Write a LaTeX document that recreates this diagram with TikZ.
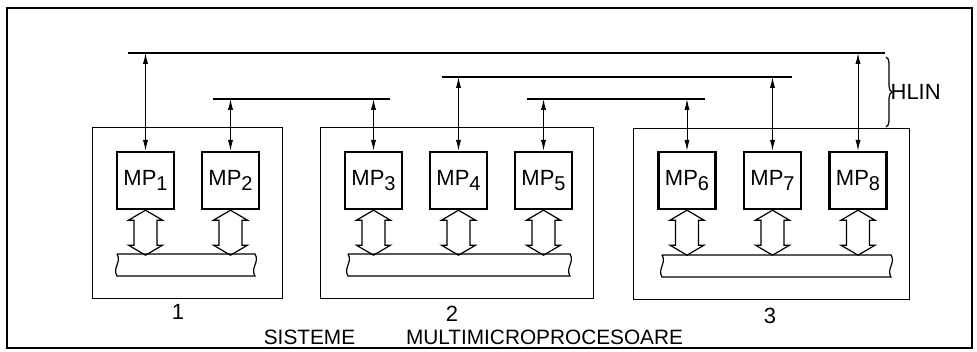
\documentclass[tikz,border=0pt]{standalone}
\usepackage{fontspec}
\setmainfont{Liberation Sans}
\usetikzlibrary{arrows.meta,positioning,calc,decorations.pathreplacing}

\newcommand{\mpname}[1]{MP\raisebox{-0.5ex}{\fontsize{10}{11}\selectfont#1}}

\begin{document}
\begin{tikzpicture}[
  x=0.5pt, y=-0.5pt,
  font=\fontsize{11}{12}\selectfont,
  outer/.style={line width=0.8pt},
  grpbox/.style={draw, line width=0.5pt, inner sep=0pt},
  mp/.style={draw, line width=1.2pt, minimum width=28.5pt, minimum height=28.5pt, inner sep=0pt},
  bus/.style={line width=0.6pt},
  link/.style={{Latex[length=5.5pt,width=2.6pt]}-{Latex[length=5.5pt,width=2.6pt]}, line width=0.5pt},
  wide/.style={line width=0.6pt, line join=miter},
  busbar/.style={line width=0.6pt},
  brace/.style={decorate, decoration={brace, amplitude=3pt}, line width=0.6pt},
  txt/.style={inner sep=0pt},
  title/.style={inner sep=0pt, font=\fontsize{10.4}{12}\selectfont}
]
\useasboundingbox (0,0) rectangle (977,352);

\draw[outer] (7,8) rectangle (972,348);

% the three systems
\node[grpbox, minimum width=95pt, minimum height=85pt] (grp1) at (187,213) {};
\node[grpbox, minimum width=136.5pt, minimum height=85pt] (grp2) at (456.5,213) {};
\node[grpbox, minimum width=138pt, minimum height=85pt] (grp3) at (771,214) {};

\node[txt] (num1) at (178,312) {1};
\node[txt] (num2) at (452,314) {2};
\node[txt] (num3) at (770,316) {3};

% processors
\foreach \i/\x in {1/145.5,2/230.5,3/373.5,4/458.5,5/543.5,6/687,7/772.5,8/858}
  \node[mp] (mp\i) at (\x,180.5) {\mpname{\i}};

% local buses
\draw[busbar] (117,254) -- (255,254) .. controls (260,262) and (250,268) .. (255,276)
  -- (117,276) .. controls (112,268) and (122,262) .. (117,254);
\draw[busbar] (348,254) -- (570,254) .. controls (575,262) and (565,268) .. (570,276)
  -- (348,276) .. controls (343,268) and (353,262) .. (348,254);
\draw[busbar] (662,255) -- (891,255) .. controls (896,263) and (886,269) .. (891,277)
  -- (662,277) .. controls (657,269) and (667,263) .. (662,255);

\foreach \i in {1,...,8}
  \draw[wide] (mp\i.south) -- ++(17,10) -- ++(-5.5,0) -- ++(0,25) -- ++(5.5,0) -- ++(-17,10)
    -- ++(-17,-10) -- ++(5.5,0) -- ++(0,-25) -- ++(-5.5,0) -- cycle;

% HLIN lines
\coordinate (busAw) at (128,53);  \coordinate (busAe) at (885,53);
\coordinate (busBw) at (442,77);  \coordinate (busBe) at (792,77);
\coordinate (busCw) at (213,99);  \coordinate (busCe) at (390,99);
\coordinate (busDw) at (527,99);  \coordinate (busDe) at (705,99);
\draw[bus] (busAw) -- (busAe);
\draw[bus] (busBw) -- (busBe);
\draw[bus] (busCw) -- (busCe);
\draw[bus] (busDw) -- (busDe);

\draw[link] (mp1.north) -- (mp1.north |- busAw);
\draw[link] (mp8.north) -- (mp8.north |- busAw);
\draw[link] (mp4.north) -- (mp4.north |- busBw);
\draw[link] (mp7.north) -- (mp7.north |- busBw);
\draw[link] (mp2.north) -- (mp2.north |- busCw);
\draw[link] (mp3.north) -- (mp3.north |- busCw);
\draw[link] (mp5.north) -- (mp5.north |- busDw);
\draw[link] (mp6.north) -- (mp6.north |- busDw);

\coordinate (hlinN) at (886,57);
\coordinate (hlinS) at (886,127);
\draw[brace] (hlinN) -- (hlinS) node[midway, right=2pt, txt] (hlin) {HLIN};

\node[title] (title1) at (309.5,337) {SISTEME};
\node[title] (title2) at (544.5,337) {MULTIMICROPROCESOARE};

\end{tikzpicture}
\end{document}
